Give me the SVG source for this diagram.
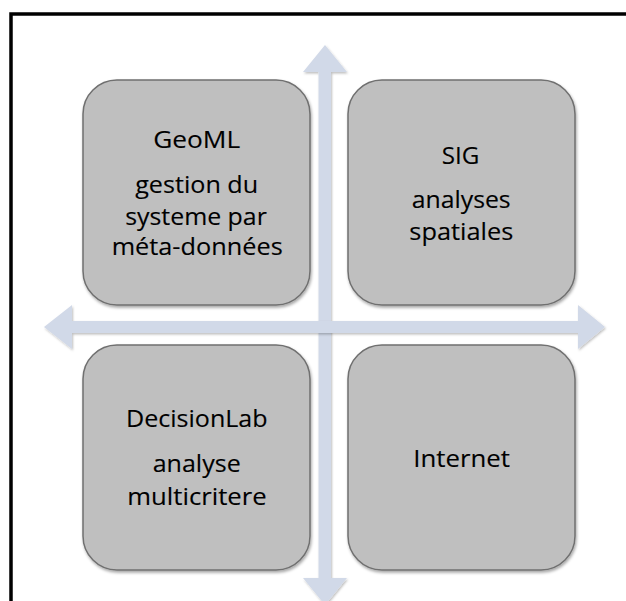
<svg xmlns="http://www.w3.org/2000/svg" width="626" height="601" viewBox="0 0 626 601">
  <defs>
    <filter id="shadow" x="-10%" y="-10%" width="120%" height="120%">
      <feDropShadow dx="1" dy="2" stdDeviation="1.5" flood-color="#000" flood-opacity="0.35"/>
    </filter>
    <filter id="ashadow" x="-10%" y="-10%" width="120%" height="120%">
      <feDropShadow dx="1" dy="1.5" stdDeviation="1.2" flood-color="#000" flood-opacity="0.25"/>
    </filter>
  </defs>
  <style>
    .box { fill: #BFBFBF; stroke: #707070; stroke-width: 1.5; filter: url(#shadow); }
    .arrow { fill: #D1D9E8; stroke: none; filter: url(#ashadow); }
    .lbl { font-family: "Open Sans", "Liberation Sans", sans-serif; font-size: 24px; fill: #000; stroke: #000; stroke-width: 0.12; text-anchor: middle; }
  </style>
  <rect x="0" y="0" width="626" height="601" fill="#FFFFFF"/>
  <rect id="frame" x="11" y="14" width="700" height="700" fill="#FFFFFF" stroke="#000" stroke-width="3.5"/>

  <g id="connectors">
    <polygon class="arrow" points="325,45 347,72 331,72 331,578 347,578 325,605 303,578 318.5,578 318.5,72 303,72"/>
    <polygon class="arrow" points="44,327 72,305 72,321 578,321 578,305 605,327 578,349 578,333 72,333 72,349"/>
  </g>

  <g id="geoml">
    <rect class="box" x="83" y="80" width="227" height="225" rx="34" ry="34"/>
    <text class="lbl" x="196.7" y="148" textLength="87" lengthAdjust="spacingAndGlyphs">GeoML</text>
    <text class="lbl" x="196.7" y="193" textLength="123" lengthAdjust="spacingAndGlyphs">gestion du</text>
    <text class="lbl" x="196" y="225" textLength="141.7" lengthAdjust="spacingAndGlyphs">systeme par</text>
    <text class="lbl" x="197.2" y="255" textLength="171" lengthAdjust="spacingAndGlyphs">méta-données</text>
  </g>

  <g id="sig">
    <rect class="box" x="348" y="80" width="227" height="225" rx="34" ry="34"/>
    <text class="lbl" x="460.5" y="164" textLength="37.6" lengthAdjust="spacingAndGlyphs">SIG</text>
    <text class="lbl" x="461.2" y="208" textLength="99" lengthAdjust="spacingAndGlyphs">analyses</text>
    <text class="lbl" x="461.3" y="240" textLength="104" lengthAdjust="spacingAndGlyphs">spatiales</text>
  </g>

  <g id="decisionlab">
    <rect class="box" x="83" y="345" width="227" height="225" rx="34" ry="34"/>
    <text class="lbl" x="196.8" y="427" textLength="141.7" lengthAdjust="spacingAndGlyphs">DecisionLab</text>
    <text class="lbl" x="196.7" y="472" textLength="88" lengthAdjust="spacingAndGlyphs">analyse</text>
    <text class="lbl" x="197" y="505" textLength="139.4" lengthAdjust="spacingAndGlyphs">multicritere</text>
  </g>

  <g id="internet">
    <rect class="box" x="348" y="345" width="227" height="225" rx="34" ry="34"/>
    <text class="lbl" x="461.7" y="466.5" textLength="96.7" lengthAdjust="spacingAndGlyphs">Internet</text>
  </g>
</svg>
